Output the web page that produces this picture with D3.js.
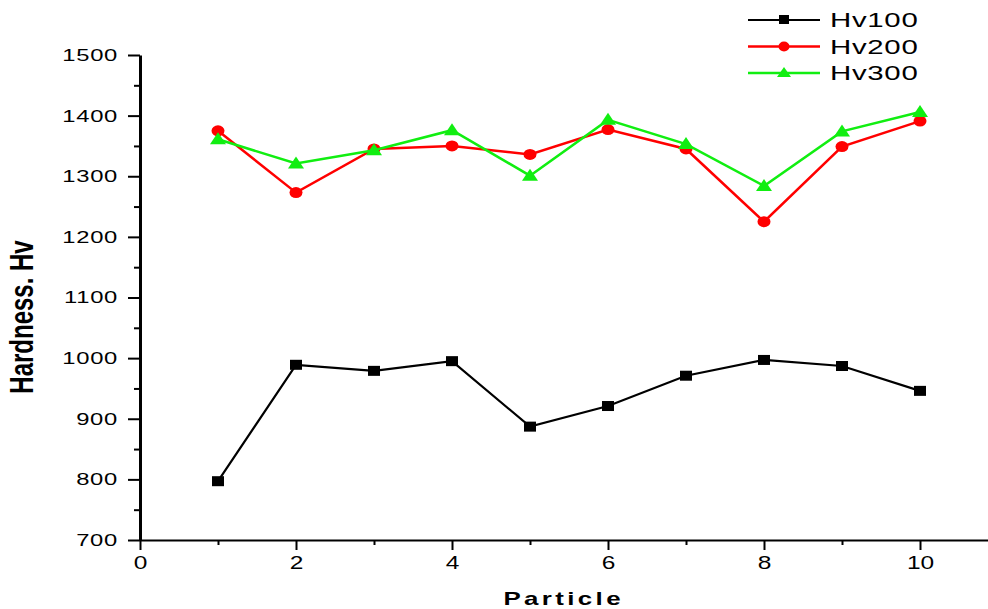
<!DOCTYPE html>
<html>
<head>
<meta charset="utf-8">
<script src="https://cdn.jsdelivr.net/npm/d3@7"></script>
<style>
  body { margin: 0; background: #fff; }
  svg { display: block; }
  text { font-family: "Liberation Sans", Arial, sans-serif; }
</style>
</head>
<body>
<script>
// particle numbers and hardness readings for each load
var particles = [1, 2, 3, 4, 5, 6, 7, 8, 9, 10];
var hv100 = [797, 989, 979, 995, 887, 921, 971, 997, 987, 946];
var hv200 = [1375, 1273, 1345, 1350, 1336, 1377, 1345, 1225, 1349, 1391];
var hv300 = [1361, 1321, 1343, 1376, 1301, 1393, 1353, 1284, 1374, 1406];
var seriesNames = ["Hv100", "Hv200", "Hv300"];
var xTicks = [0, 2, 4, 6, 8, 10];
var yTicks = [700, 800, 900, 1000, 1100, 1200, 1300, 1400, 1500];

var width = 988, height = 609;
var margin = {top: 55, left: 140, bottom: 69};
var stretch = 1.4; // the original picture's text is stretched sideways

var svg = d3.select("body").append("svg")
  .attr("width", width)
  .attr("height", height);

// scales: 78px per particle, axis runs past the right edge
var x = d3.scaleLinear().domain([0, 11]).range([margin.left, margin.left + 11 * 78]);
var y = d3.scaleLinear().domain([700, 1500]).range([height - margin.bottom, margin.top]);
var y0 = y(700);

// minor ticks first
var xMinor = d3.range(1, 11, 2);
var yMinor = d3.range(750, 1500, 100);

svg.append("g")
  .attr("transform", "translate(0," + y0 + ")")
  .call(d3.axisBottom(x).tickValues(xMinor).tickSize(5).tickFormat(""))
  .call(g => g.select(".domain").remove())
  .call(g => g.selectAll("line").attr("stroke-width", 2));

svg.append("g")
  .attr("transform", "translate(" + margin.left + ",0)")
  .call(d3.axisLeft(y).tickValues(yMinor).tickSize(6).tickFormat(""))
  .call(g => g.select(".domain").remove())
  .call(g => g.selectAll("line").attr("stroke-width", 2));

// x axis
var xAxis = svg.append("g")
  .attr("transform", "translate(0," + y0 + ")")
  .call(d3.axisBottom(x).tickValues(xTicks).tickSize(10).tickSizeOuter(0).tickFormat(d3.format("d")));
xAxis.select(".domain").attr("stroke-width", 2);
xAxis.selectAll("line").attr("stroke-width", 2);
xAxis.selectAll("text")
  .attr("y", 0).attr("dy", 0)
  .attr("transform", "translate(0,29) scale(" + stretch + ",1)")
  .attr("font-family", "'Liberation Sans', Arial, sans-serif")
  .attr("font-size", 17.5)
  .attr("fill", "#000");

// y axis
var yAxis = svg.append("g")
  .attr("transform", "translate(" + margin.left + ",0)")
  .call(d3.axisLeft(y).tickValues(yTicks).tickSize(12).tickSizeOuter(0).tickFormat(d3.format("d")));
yAxis.select(".domain").attr("stroke-width", 3);
yAxis.selectAll("line").attr("stroke-width", 2);
yAxis.selectAll("text")
  .attr("x", 0)
  .attr("transform", "translate(-22,0) scale(" + stretch + ",1)")
  .attr("font-family", "'Liberation Sans', Arial, sans-serif")
  .attr("font-size", 17)
  .attr("letter-spacing", 0.5)
  .attr("fill", "#000");

// axis titles
svg.append("text")
  .attr("transform", "translate(33,317) rotate(-90) scale(1," + stretch + ")")
  .attr("text-anchor", "middle")
  .attr("font-size", 24)
  .attr("font-weight", "bold")
  .text("Hardness. Hv");

svg.append("text")
  .attr("transform", "translate(562,605) scale(" + stretch + ",1)")
  .attr("text-anchor", "middle")
  .attr("font-size", 18.5)
  .attr("font-weight", "bold")
  .attr("letter-spacing", 2.4)
  .attr("dx", 1.2)
  .text("Particle");

var series = [
  {name: seriesNames[0], values: hv100, color: "#000000", shape: "square", width: 2.2},
  {name: seriesNames[1], values: hv200, color: "#ff0000", shape: "circle", width: 2.5},
  {name: seriesNames[2], values: hv300, color: "#11ee11", shape: "triangle", width: 2.5}
];

var line = d3.line()
  .x((d, i) => x(particles[i]))
  .y(d => y(d));

function drawMarker(g, shape, color) {
  if (shape == "square") {
    g.append("rect").attr("x", -6).attr("y", -5).attr("width", 12).attr("height", 10).attr("fill", color);
  } else if (shape == "circle") {
    g.append("ellipse").attr("rx", 6.5).attr("ry", 5.5).attr("fill", color);
  } else {
    g.append("path").attr("d", "M0,-7L8,5L-8,5Z").attr("fill", color);
  }
}

series.forEach(function(s) {
  svg.append("path")
    .datum(s.values)
    .attr("fill", "none")
    .attr("stroke", s.color)
    .attr("stroke-width", s.width)
    .attr("d", line);

  s.values.forEach(function(v, i) {
    var g = svg.append("g").attr("transform", "translate(" + x(particles[i]) + "," + y(v) + ")");
    drawMarker(g, s.shape, s.color);
  });
});

// legend
var legend = svg.append("g").attr("transform", "translate(748,20)");
series.forEach(function(s, i) {
  var row = legend.append("g").attr("transform", "translate(0," + (i * 26.5) + ")");
  row.append("line")
    .attr("x1", 0).attr("x2", 72)
    .attr("stroke", s.color)
    .attr("stroke-width", s.width);
  var m = row.append("g").attr("transform", "translate(36,0)");
  if (s.shape == "square") {
    m.append("rect").attr("x", -5).attr("y", -5).attr("width", 10).attr("height", 9).attr("fill", s.color);
  } else if (s.shape == "circle") {
    m.append("ellipse").attr("rx", 5.5).attr("ry", 5).attr("fill", s.color);
  } else {
    m.append("path").attr("d", "M0,-6L7,4L-7,4Z").attr("fill", s.color);
  }
  row.append("text")
    .attr("transform", "translate(82,7) scale(" + stretch + ",1)")
    .attr("font-size", 21)
    .attr("letter-spacing", 0.5)
    .text(s.name);
});
</script>
</body>
</html>
